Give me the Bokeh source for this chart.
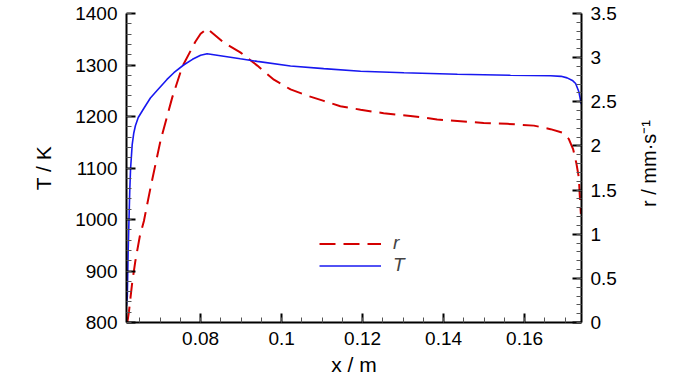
import math
from bokeh.plotting import figure
from bokeh.layouts import row
from bokeh.models import Range1d, LinearAxis, FixedTicker, Legend, LegendItem
from bokeh.embed import file_html
from bokeh.resources import INLINE

# ---------------- data ----------------
x_T = [0.0617, 0.0619, 0.0621, 0.0623, 0.0625, 0.0627, 0.0631, 0.0635, 0.0639, 0.0646,
       0.0660, 0.0676, 0.0693, 0.0717, 0.0734, 0.0758, 0.0780, 0.0800, 0.0816, 0.0857,
       0.0898, 0.0940, 0.1022, 0.1104, 0.1195, 0.1302, 0.1434, 0.1565, 0.1664, 0.1690,
       0.1705, 0.1718, 0.1726, 0.1734, 0.1740]
T_vals = [832, 850, 935, 995, 1055, 1098, 1145, 1168, 1182, 1198,
          1216, 1236, 1251, 1272, 1285, 1300, 1311, 1319, 1322, 1317,
          1312, 1307, 1298, 1293, 1288, 1285, 1282, 1280, 1279, 1278,
          1275, 1270, 1264, 1248, 1224]

x_r = [0.0619, 0.0623, 0.0631, 0.0639, 0.0650, 0.0660, 0.0676, 0.0701, 0.0730, 0.0755,
       0.0787, 0.0800, 0.0816, 0.0857, 0.0898, 0.0940, 0.0981, 0.1022, 0.1063, 0.1104,
       0.1145, 0.1195, 0.1252, 0.1318, 0.1384, 0.1442, 0.1499, 0.1557, 0.1623, 0.1664,
       0.1693, 0.1709, 0.1720, 0.1728, 0.1734, 0.1736, 0.1739]
r_vals = [0.00, 0.12, 0.45, 0.70, 0.98, 1.15, 1.52, 2.06, 2.55, 2.90,
          3.18, 3.27, 3.33, 3.17, 3.06, 2.91, 2.75, 2.64, 2.57, 2.51,
          2.45, 2.41, 2.37, 2.34, 2.30, 2.28, 2.26, 2.25, 2.23, 2.19,
          2.15, 2.08, 1.96, 1.80, 1.64, 1.46, 1.23]

x_ticks = [0.08, 0.10, 0.12, 0.14, 0.16]
x_tick_labels = ["0.08", "0.1", "0.12", "0.14", "0.16"]
x_minor = [0.065, 0.07, 0.075, 0.08, 0.085, 0.09, 0.095, 0.10, 0.105, 0.11, 0.115,
           0.12, 0.125, 0.13, 0.135, 0.14, 0.145, 0.15, 0.155, 0.16, 0.165, 0.17]
T_ticks = [800, 900, 1000, 1100, 1200, 1300, 1400]
T_minor = [800 + 20 * i for i in range(31)]
r_ticks = [0, 0.5, 1, 1.5, 2, 2.5, 3, 3.5]
r_tick_labels = ["0", "0.5", "1", "1.5", "2", "2.5", "3", "3.5"]
r_minor = [round(0.1 * i, 1) for i in range(36)]

series_labels = ["r", "T"]
x_axis_title = "x / m"
T_axis_title = "T / K"
r_axis_title = "r / mm·s⁻¹"

# ---------------- layout ----------------
X0, X1 = 0.0617, 0.17405
Y0, Y1 = 800, 1400
R0, R1 = 0.0, 3.5
FW, FH = 455, 309
BL, BR, BT, BB = 126, 40, 13, 52
FONT = "Liberation Sans"

p = figure(frame_width=FW, frame_height=FH,
           min_border_left=BL, min_border_right=BR, min_border_top=BT, min_border_bottom=BB,
           x_range=Range1d(X0, X1), y_range=Range1d(Y0, Y1),
           output_backend="svg", toolbar_location=None, title=None)
p.extra_y_ranges = {"r": Range1d(R0, R1)}
p.outline_line_color = None
p.xgrid.visible = False
p.ygrid.visible = False
p.background_fill_alpha = 0
p.border_fill_alpha = 0

raxis = LinearAxis(y_range_name="r")
p.add_layout(raxis, "right")

p.xaxis[0].ticker = FixedTicker(ticks=x_ticks, minor_ticks=x_minor)
p.xaxis[0].major_label_overrides = {t: l for t, l in zip(x_ticks, x_tick_labels)}
p.yaxis[0].ticker = FixedTicker(ticks=T_ticks, minor_ticks=T_minor)
raxis.ticker = FixedTicker(ticks=r_ticks, minor_ticks=r_minor)
raxis.major_label_overrides = {t: l for t, l in zip(r_ticks, r_tick_labels)}

for ax in [p.xaxis[0], p.yaxis[0], raxis]:
    ax.axis_line_width = 2
    ax.axis_line_color = "black"
    ax.major_tick_in = 9
    ax.major_tick_out = 0
    ax.minor_tick_in = 5
    ax.minor_tick_out = 0
    ax.major_tick_line_width = 2
    ax.major_tick_line_color = "black"
    ax.minor_tick_line_width = 1
    ax.minor_tick_line_color = "#555555"
    ax.major_label_text_font = FONT
    ax.major_label_text_font_size = "19px"
    ax.major_label_text_color = "black"
    ax.major_label_standoff = 9

for ax, title, standoff in [(p.xaxis[0], x_axis_title, 5),
                            (p.yaxis[0], T_axis_title, 17)]:
    ax.axis_label = title
    ax.axis_label_text_font = FONT
    ax.axis_label_text_font_size = "21px"
    ax.axis_label_text_font_style = "normal"
    ax.axis_label_text_color = "black"
    ax.axis_label_standoff = standoff

# ---------------- curves ----------------
RED = "#D40000"
BLUE = "#1818F0"
r_line = p.line(x_r, r_vals, y_range_name="r", line_color=RED, line_width=2, line_dash="16 8")
T_line = p.line(x_T, T_vals, line_color=BLUE, line_width=1.6)

legend = Legend(items=[LegendItem(label=series_labels[0], renderers=[r_line]),
                       LegendItem(label=series_labels[1], renderers=[T_line])],
                location=(193, 46), glyph_width=62, glyph_height=21, label_height=21,
                label_standoff=12, spacing=0, padding=0, margin=0,
                border_line_color=None, background_fill_alpha=0,
                label_text_font=FONT, label_text_font_size="19px",
                label_text_font_style="italic")
p.add_layout(legend)

# ---------------- right-hand title: a narrow companion figure whose left-axis
# label reads upward, centred on its own frame ----------------
q = figure(frame_width=2, frame_height=300,
           min_border_left=40, min_border_right=0, min_border_top=13, min_border_bottom=0,
           x_range=Range1d(0, 1), y_range=Range1d(0, 1),
           x_axis_location=None, y_axis_location="left",
           output_backend="svg", toolbar_location=None, title=None)
q.outline_line_color = None
q.xgrid.visible = False
q.ygrid.visible = False
q.background_fill_alpha = 0
q.border_fill_alpha = 0
qa = q.yaxis[0]
qa.ticker = FixedTicker(ticks=[], minor_ticks=[])
qa.axis_line_color = None
qa.major_tick_in = 0
qa.major_tick_out = 0
qa.minor_tick_in = 0
qa.minor_tick_out = 0
qa.major_label_standoff = 0
qa.axis_label = r_axis_title
qa.axis_label_text_font = FONT
qa.axis_label_text_font_size = "20px"
qa.axis_label_text_font_style = "normal"
qa.axis_label_text_color = "black"
qa.axis_label_standoff = 2

layout = row(p, q, spacing=0)
open("out.html", "w").write(file_html(layout, INLINE))
